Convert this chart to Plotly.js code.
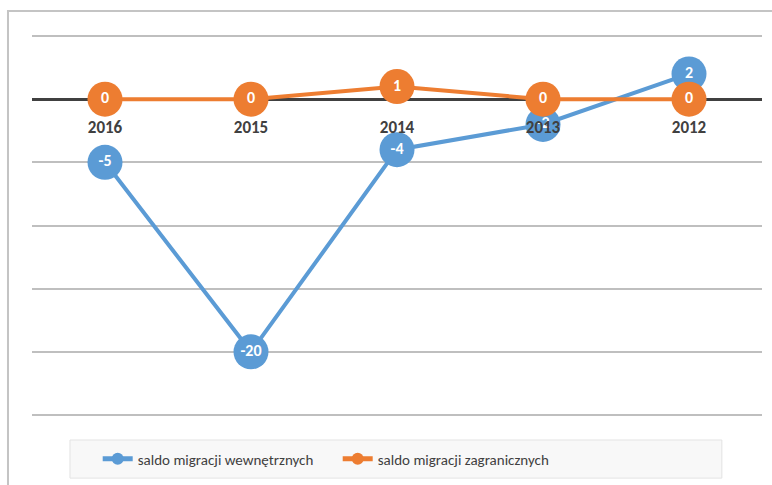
<!DOCTYPE html>
<html>
<head>
<meta charset="utf-8">
<script src="https://cdn.plot.ly/plotly-3.0.1.min.js"></script>
<style>html,body{margin:0;padding:0;background:#fff;}#chart{width:772px;height:485px;}</style>
</head>
<body>
<div id="chart"></div>
<script>
const years = ['2016', '2015', '2014', '2013', '2012'];
const saldoWewnetrzne = [-5, -20, -4, -2, 2];
const saldoZagraniczne = [0, 0, 1, 0, 0];
const seriesNames = ['saldo migracji wewnętrznych', 'saldo migracji zagranicznych'];

const FONT = 'Carlito, Lato, "Open Sans", sans-serif';
const blue = '#5b9bd5', orange = '#ed7d31';

function trace(vals, name, color) {
  return {
    type: 'scatter', mode: 'lines+markers+text',
    x: years, y: vals, name: name,
    text: vals.map(String), textposition: 'middle center',
    textfont: {family: FONT, size: 16, color: '#ffffff', weight: 'bold'},
    line: {color: color, width: 4},
    marker: {color: color, size: 35},
    cliponaxis: false
  };
}

const data = [
  trace(saldoWewnetrzne, seriesNames[0], blue),
  trace(saldoZagraniczne, seriesNames[1], orange)
];

const layout = {
  width: 772, height: 485,
  margin: {l: 32, r: 10, t: 35, b: 69},
  paper_bgcolor: '#ffffff', plot_bgcolor: '#ffffff',
  font: {family: FONT, color: '#404040'},
  showlegend: true,
  legend: {
    orientation: 'h', x: 0.09, xanchor: 'left', y: -0.113, yanchor: 'middle',
    bgcolor: 'rgba(0,0,0,0)', borderwidth: 0,
    font: {family: FONT, size: 15, color: '#404040'},
    entrywidth: 195, itemsizing: 'constant'
  },
  xaxis: {
    type: 'category', range: [-0.5, 4.5], anchor: 'free', position: 25/30,
    showgrid: false, showline: false, zeroline: false, ticks: '',
    tickfont: {family: FONT, size: 17, color: '#404040', weight: 'bold'},
    ticklabelstandoff: 16
  },
  yaxis: {
    range: [-25.08, 5.08], dtick: 5, showticklabels: false, ticks: '',
    showgrid: true, gridcolor: '#bfbfbf', gridwidth: 2,
    zeroline: true, zerolinecolor: '#404040', zerolinewidth: 3,
    showline: false
  },
  shapes: [
    {type: 'rect', xref: 'paper', yref: 'paper', x0: -0.0329, x1: 1.2, y0: -0.3, y1: 1.063,
     line: {color: '#c4c4c4', width: 2}, fillcolor: 'rgba(0,0,0,0)', layer: 'below'},
    {type: 'rect', xref: 'paper', yref: 'paper', x0: 0.052, x1: 0.945, y0: -0.163, y1: -0.063,
     line: {color: '#e3e3e3', width: 1}, fillcolor: '#f8f8f8', layer: 'below'}
  ]
};

Plotly.newPlot('chart', data, layout, {displayModeBar: false, staticPlot: true});
</script>
</body>
</html>
